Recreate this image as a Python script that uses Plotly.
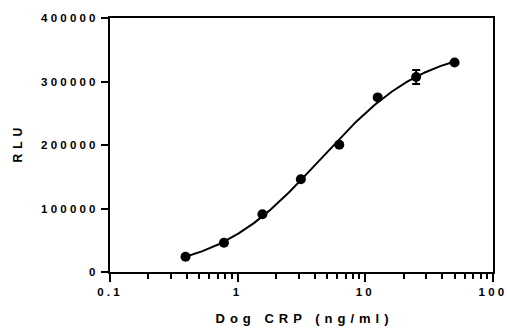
import numpy as np
import plotly.graph_objects as go

# Data
conc = [0.390625, 0.78125, 1.5625, 3.125, 6.25, 12.5, 25, 50]
rlu = [24000, 46000, 91000, 146000, 200500, 275000, 307000, 330000]
rlu_err = [0, 0, 0, 0, 0, 0, 11000, 0]

x_tickvals = [0.1, 1, 10, 100]
x_ticktext = ["0.1", "1", "10", "100"]
y_tickvals = [0, 100000, 200000, 300000, 400000]
y_ticktext = ["0", "100000", "200000", "300000", "400000"]

FONT = "Liberation Sans, Arial, sans-serif"

# 4-parameter logistic fit of the data (grid over EC50/slope, linear LS for bottom/top)
xa = np.array(conc, dtype=float)
ya = np.array(rlu, dtype=float)
best = None
for lc in np.linspace(-0.5, 2.0, 251):
    for b in np.linspace(0.5, 2.5, 201):
        g = 1.0 / (1.0 + (10 ** lc / xa) ** b)
        A = np.column_stack([1 - g, g])
        coef, *_ = np.linalg.lstsq(A, ya, rcond=None)
        r = np.sum((A @ coef - ya) ** 2)
        if best is None or r < best[0]:
            best = (r, lc, b, coef)
_, lc, b, coef = best
xf = np.logspace(np.log10(xa.min()), np.log10(xa.max()), 200)
gf = 1.0 / (1.0 + (10 ** lc / xf) ** b)
yf = coef[0] * (1 - gf) + coef[1] * gf

fig = go.Figure()
fig.add_trace(go.Scatter(
    x=xf, y=yf, mode="lines", line=dict(color="black", width=2),
    hoverinfo="skip", showlegend=False))
fig.add_trace(go.Scatter(
    x=conc, y=rlu, mode="markers",
    marker=dict(color="black", size=10),
    error_y=dict(type="data", array=rlu_err, visible=True, color="black", thickness=2, width=4),
    showlegend=False))

fig.update_layout(
    width=507, height=330,
    margin=dict(l=110, r=14, t=18, b=58),
    paper_bgcolor="white", plot_bgcolor="white",
    font=dict(family=FONT, color="black", size=11, weight="bold"),
    annotations=[
        dict(text="Dog CRP (ng/ml)", xref="paper", yref="paper", x=0.5, y=0,
             yshift=-46, xshift=3, yanchor="middle", xanchor="center", showarrow=False,
             font=dict(size=13, family=FONT, weight="bold", color="black")),
        dict(text="RLU", xref="paper", yref="paper", x=0, y=0.5,
             xshift=-92, yshift=2, xanchor="center", yanchor="middle", textangle=-90, showarrow=False,
             font=dict(size=12, family=FONT, weight="bold", color="black")),
    ],
)
fig.update_xaxes(
    type="log", range=[-1, 2], automargin=False,
    tickvals=x_tickvals, ticktext=x_ticktext,
    ticks="outside", ticklen=8, tickwidth=2, tickcolor="black",
    minor=dict(ticks="outside", ticklen=5, tickwidth=2, tickcolor="black", dtick="D1", showgrid=False),
    showline=True, linecolor="black", linewidth=2, mirror=True,
    showgrid=False, zeroline=False,
    tickfont=dict(size=11.5, family=FONT, weight="bold"),
)
fig.update_yaxes(
    range=[0, 400000], automargin=False,
    tickvals=y_tickvals, ticktext=y_ticktext,
    ticks="outside", ticklen=7, tickwidth=2, tickcolor="black",
    showline=True, linecolor="black", linewidth=2, mirror=True,
    showgrid=False, zeroline=False,
    tickfont=dict(size=11.5, family=FONT, weight="bold"),
)

post = """
document.body.style.margin='0';
document.body.style.overflow='hidden';
var gd = document.getElementById('{plot_id}');
gd.querySelectorAll('.xtick text, .ytick text').forEach(function(t){ t.style.letterSpacing='3.2px'; });
gd.querySelectorAll('.annotation-text').forEach(function(t){ t.style.letterSpacing='5px'; });
"""
fig.write_html("out.html", post_script=post, config={"displayModeBar": False})
